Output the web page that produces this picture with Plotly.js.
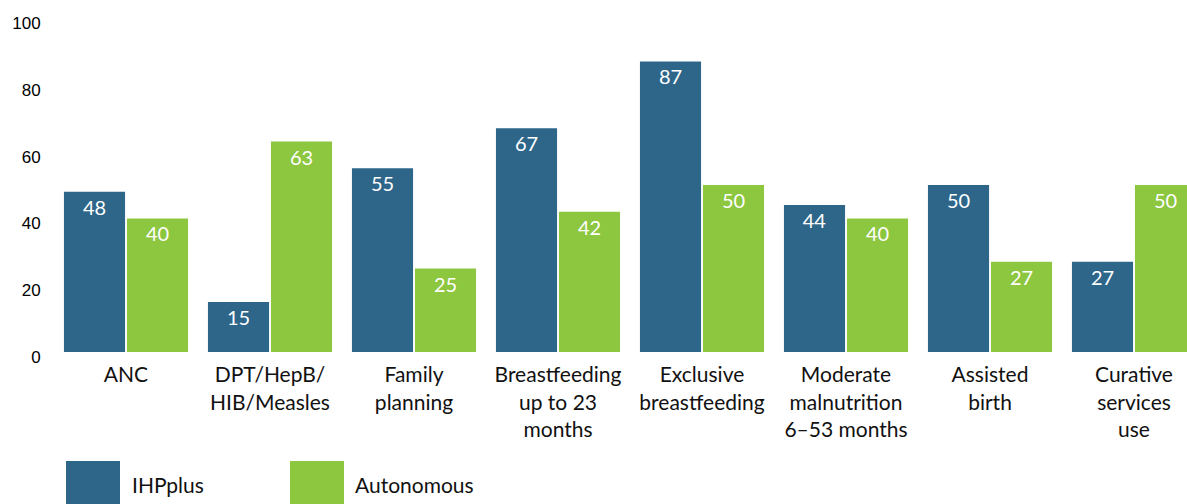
<!DOCTYPE html>
<html>
<head>
<meta charset="utf-8">
<script src="https://cdn.plot.ly/plotly-3.0.1.min.js"></script>
<style>
html, body { margin: 0; padding: 0; overflow: hidden; background: #fff; }
#chart { width: 1220px; height: 504px; }
</style>
</head>
<body>
<div id="chart"></div>
<script>
const categories = [
  "ANC",
  "DPT/HepB/<br>HIB/Measles",
  "Family<br>planning",
  "Breastfeeding<br>up to 23<br>months",
  "Exclusive<br>breastfeeding",
  "Moderate<br>malnutrition<br>6\u201353 months",
  "Assisted<br>birth",
  "Curative<br>services<br>use"
];
const seriesNames = ["IHPplus", "Autonomous"];
const ihpplus = [48, 15, 55, 67, 87, 44, 50, 27];
const autonomous = [40, 63, 25, 42, 50, 40, 27, 50];
const yTicks = [0, 20, 40, 60, 80, 100];

const colors = ["#2E668A", "#8DC63F"];
const labelFont = "Lato, 'Open Sans', sans-serif";

const W = 1220, H = 504;
const m = { l: 54, r: 14, t: 18, b: 152 };
const pw = W - m.l - m.r, ph = H - m.t - m.b;
const px = x => (x - m.l) / pw;
const py = y => (m.t + ph - y) / ph;

function barTrace(name, vals, color) {
  return {
    type: "bar",
    name: name,
    x: categories,
    y: vals,
    marker: { color: color, line: { width: 0 } },
    text: vals.map(String),
    textposition: "inside",
    insidetextanchor: "end",
    textangle: 0,
    textfont: { family: labelFont, size: 20, color: "#ffffff" },
    hoverinfo: "x+y",
    showlegend: false
  };
}

const data = [
  barTrace(seriesNames[0], ihpplus, colors[0]),
  barTrace(seriesNames[1], autonomous, colors[1])
];

const legendBoxes = [
  { x0: 66, x1: 120, tx: 130 },
  { x0: 290, x1: 344, tx: 353 }
];

const shapes = legendBoxes.map((b, i) => ({
  type: "rect", xref: "paper", yref: "paper",
  x0: px(b.x0), x1: px(b.x1), y0: py(461), y1: py(520),
  fillcolor: colors[i], line: { width: 0 }, layer: "above"
}));
const annotations = legendBoxes.map((b, i) => ({
  xref: "paper", yref: "paper", x: px(b.tx), y: py(484),
  xanchor: "left", yanchor: "middle", showarrow: false,
  text: seriesNames[i],
  font: { family: labelFont, size: 21, color: "#111111" }
}));

const layout = {
  width: W, height: H,
  margin: m,
  paper_bgcolor: "#ffffff",
  plot_bgcolor: "#ffffff",
  barmode: "group",
  bargap: 0.125,
  bargroupgap: 0.03,
  showlegend: false,
  xaxis: {
    type: "category",
    range: [-0.5, 7.5],
    showgrid: false, zeroline: false, showline: false,
    ticks: "outside", ticklen: 4, tickcolor: "rgba(0,0,0,0)",
    tickfont: { family: labelFont, size: 21, color: "#111111" },
    fixedrange: true
  },
  yaxis: {
    range: [0, 100],
    tickvals: yTicks,
    ticktext: yTicks.map(String),
    showgrid: false, zeroline: false, showline: false,
    ticks: "outside", ticklen: 9, tickcolor: "rgba(0,0,0,0)",
    ticklabelshift: 5,
    tickfont: { family: "'Liberation Sans', Arial, sans-serif", size: 17, color: "#000000" },
    fixedrange: true
  },
  shapes: shapes,
  annotations: annotations
};

Plotly.newPlot("chart", data, layout, { displayModeBar: false, staticPlot: true });
</script>
</body>
</html>
